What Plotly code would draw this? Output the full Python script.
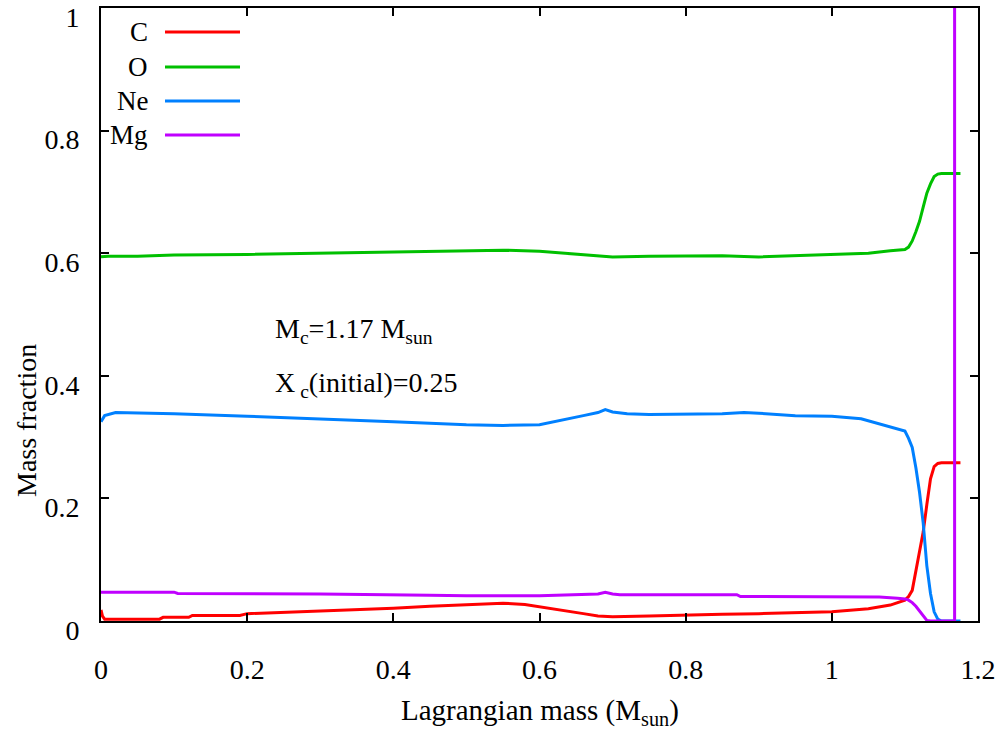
import plotly.graph_objects as go

# ---------------- data ----------------
c_x = [0, 0.002, 0.005, 0.08, 0.085, 0.12, 0.125, 0.19, 0.2, 0.3, 0.4, 0.45, 0.5, 0.55, 0.58, 0.62,
       0.66, 0.68, 0.7, 0.75, 0.8, 0.85, 0.9, 0.95, 1.0, 1.05, 1.08, 1.1, 1.105, 1.11, 1.115, 1.12,
       1.125, 1.13, 1.135, 1.14, 1.145, 1.15, 1.176]
c_y = [0.018, 0.008, 0.003, 0.003, 0.006, 0.006, 0.009, 0.009, 0.012, 0.016, 0.021, 0.024, 0.027,
       0.029, 0.027, 0.020, 0.012, 0.008, 0.007, 0.008, 0.010, 0.011, 0.012, 0.013, 0.015, 0.020,
       0.026, 0.034, 0.040, 0.050, 0.080, 0.115, 0.145, 0.190, 0.232, 0.252, 0.257, 0.258, 0.258]

o_x = [0, 0.01, 0.05, 0.1, 0.2, 0.3, 0.4, 0.45, 0.5, 0.55, 0.6, 0.65, 0.68, 0.7, 0.75, 0.8, 0.85,
       0.9, 0.95, 1.0, 1.05, 1.08, 1.1, 1.105, 1.11, 1.115, 1.12, 1.125, 1.13, 1.135, 1.14, 1.145,
       1.15, 1.176]
o_y = [0.594, 0.595, 0.595, 0.597, 0.598, 0.600, 0.603, 0.604, 0.605, 0.605, 0.603, 0.598, 0.596,
       0.594, 0.595, 0.596, 0.596, 0.594, 0.596, 0.597, 0.600, 0.604, 0.606, 0.610, 0.620, 0.635,
       0.652, 0.675, 0.698, 0.713, 0.725, 0.729, 0.730, 0.730]

ne_x = [0, 0.005, 0.02, 0.1, 0.2, 0.3, 0.4, 0.5, 0.55, 0.6, 0.63, 0.66, 0.68, 0.69, 0.7, 0.72,
        0.75, 0.8, 0.85, 0.88, 0.9, 0.95, 1.0, 1.04, 1.07, 1.09, 1.1, 1.105, 1.11, 1.115, 1.12,
        1.125, 1.13, 1.135, 1.14, 1.145, 1.15, 1.176]
ne_y = [0.325, 0.335, 0.340, 0.338, 0.334, 0.330, 0.325, 0.320, 0.319, 0.320, 0.327, 0.335, 0.340,
        0.345, 0.341, 0.338, 0.337, 0.337, 0.338, 0.340, 0.339, 0.335, 0.334, 0.330, 0.320, 0.314,
        0.310, 0.298, 0.283, 0.250, 0.210, 0.160, 0.090, 0.045, 0.015, 0.003, 0.0, 0.0]

mg_x = [0, 0.1, 0.105, 0.3, 0.45, 0.5, 0.6, 0.65, 0.68, 0.69, 0.7, 0.71, 0.75, 0.8, 0.87, 0.875,
        1.0, 1.065, 1.09, 1.1, 1.105, 1.11, 1.115, 1.12, 1.125, 1.13, 1.135, 1.168, 1.168]
mg_y = [0.047, 0.047, 0.045, 0.044, 0.042, 0.041, 0.041, 0.043, 0.044, 0.047, 0.044, 0.043, 0.043,
        0.043, 0.043, 0.040, 0.040, 0.039, 0.037, 0.036, 0.034, 0.030, 0.024, 0.016, 0.007, 0.001,
        0.0, 0.0, 1.0]

series_names = ["C", "O", "Ne", "Mg"]
series_colors = ["#ff0000", "#00c000", "#0080ff", "#c000ff"]
series_data = [(c_x, c_y), (o_x, o_y), (ne_x, ne_y), (mg_x, mg_y)]

x_ticks = [0, 0.2, 0.4, 0.6, 0.8, 1.0, 1.2]
x_ticktext = ["0", "0.2", "0.4", "0.6", "0.8", "1", "1.2"]
y_ticks = [0, 0.2, 0.4, 0.6, 0.8, 1.0]
y_ticktext = ["0", "0.2", "0.4", "0.6", "0.8", "1"]

FONT = "Liberation Serif"

fig = go.Figure()
for name, col, (xs, ys) in zip(series_names, series_colors, series_data):
    fig.add_trace(go.Scatter(x=xs, y=ys, mode="lines", name=name,
                             line=dict(color=col, width=3), showlegend=False))

W, H = 1006, 735
L, R, T, B = 101, 28, 8, 114
pw, ph = W - L - R, H - T - B

def px(xp):
    return (xp - L) / pw

def py(yp):
    return 1 - (yp - T) / ph

annotations = []
shapes = []
# legend (gnuplot style: label left of sample)
leg_y = [32, 67, 101, 135]
for name, col, yy in zip(series_names, series_colors, leg_y):
    annotations.append(dict(x=px(150), y=py(yy), xref="paper", yref="paper", text=name,
                            showarrow=False, xanchor="right", yanchor="middle",
                            font=dict(family=FONT, size=27, color="black")))
    shapes.append(dict(type="line", xref="paper", yref="paper", x0=px(165), x1=px(240),
                       y0=py(yy), y1=py(yy), line=dict(color=col, width=3)))

annotations.append(dict(x=px(273), y=py(330), xref="paper", yref="paper",
                        text="M<sub>c</sub>=1.17 M<sub>sun</sub>", showarrow=False,
                        xanchor="left", yanchor="middle",
                        font=dict(family=FONT, size=28, color="black")))
annotations.append(dict(x=px(273), y=py(384), xref="paper", yref="paper",
                        text="X<sub> c</sub>(initial)=0.25", showarrow=False,
                        xanchor="left", yanchor="middle",
                        font=dict(family=FONT, size=28, color="black")))
# axis titles
annotations.append(dict(x=px(26), y=py(421), xref="paper", yref="paper",
                        text="Mass fraction", showarrow=False, textangle=-90,
                        xanchor="center", yanchor="middle",
                        font=dict(family=FONT, size=28, color="black")))
annotations.append(dict(x=px(540), y=py(712), xref="paper", yref="paper",
                        text="Lagrangian mass (M<sub>sun</sub>)", showarrow=False,
                        xanchor="center", yanchor="middle",
                        font=dict(family=FONT, size=29, color="black")))

axis_common = dict(showgrid=False, zeroline=False, showline=True, linecolor="black",
                   linewidth=2, mirror="ticks", ticks="inside", ticklen=8, tickwidth=1.5,
                   tickcolor="black", ticklabeloverflow="allow", automargin=False,
                   tickfont=dict(family=FONT, size=28, color="black"))

fig.update_layout(
    width=W, height=H,
    margin=dict(l=L, r=R, t=T, b=B, autoexpand=False),
    paper_bgcolor="white", plot_bgcolor="white",
    font=dict(family=FONT),
    xaxis=dict(range=[0, 1.2], tickvals=x_ticks, ticktext=x_ticktext,
               ticklabelstandoff=22, **axis_common),
    yaxis=dict(range=[0, 1.0], tickvals=y_ticks, ticktext=y_ticktext,
               ticklabelstandoff=14, ticklabelshift=9, **axis_common),
    annotations=annotations,
    shapes=shapes,
)

fig.write_html("out.html")
